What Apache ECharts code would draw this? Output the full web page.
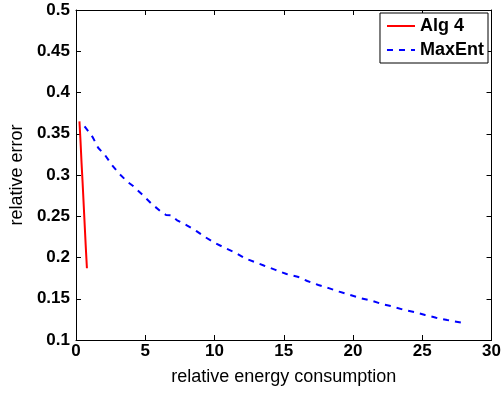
<!DOCTYPE html>
<html><head><meta charset="utf-8">
<script src="https://cdn.jsdelivr.net/npm/echarts@6/dist/echarts.min.js"></script>
<style>html,body{margin:0;padding:0;background:#fff}#c{width:504px;height:394px}</style>
</head><body><div id="c"></div>
<script>
var alg4 = [[0.25,0.365],[0.33,0.34],[0.40,0.315],[0.48,0.29],[0.70,0.215],[0.79,0.187]];
var maxEnt = [[0.62,0.359],[1.2,0.346],[1.6,0.333],[2.1,0.324],[2.6,0.312],[3.1,0.302],[3.7,0.292],[4.1,0.287],[4.8,0.276],[5.4,0.266],[6.1,0.256],[6.5,0.2515],[6.9,0.251],[7.3,0.245],[8.0,0.239],[8.7,0.232],[9.3,0.225],[10.0,0.218],[10.7,0.212],[11.5,0.206],[12.2,0.199],[12.9,0.1945],[13.6,0.19],[14.4,0.185],[15.2,0.18],[16.0,0.1767],[16.7,0.1715],[17.5,0.1667],[18.3,0.1626],[19.0,0.1586],[19.8,0.1545],[20.6,0.1505],[21.4,0.1473],[22.1,0.1436],[22.9,0.1404],[23.7,0.1364],[24.5,0.1336],[25.2,0.1303],[26.0,0.127],[26.8,0.1242],[27.85,0.121]];
var seriesNames = ['Alg 4','MaxEnt'];
var xTitle = 'relative energy consumption';
var yTitle = 'relative error';

var chart = echarts.init(document.getElementById('c'), null, {renderer:'canvas'});
var FONT = 'Liberation Sans, Arial, Helvetica, sans-serif';
var lineCol = '#000';
function axisBase(){
  return {
    axisLine:{show:true,onZero:false,lineStyle:{color:lineCol,width:1}},
    axisTick:{show:true,inside:true,length:5,lineStyle:{color:lineCol}},
    splitLine:{show:false}
  };
}
var xb = Object.assign(axisBase(), {type:'value',min:0,max:30,interval:5,position:'bottom',
  name:xTitle,nameLocation:'middle',nameGap:28,
  nameTextStyle:{fontFamily:FONT,fontSize:18,color:'#000'},
  axisLabel:{fontFamily:FONT,fontSize:17,fontWeight:'bold',color:'#000',margin:3}});
var xt = Object.assign(axisBase(), {type:'value',min:0,max:30,interval:5,position:'top',axisLabel:{show:false}});
var yl = Object.assign(axisBase(), {type:'value',min:0.1,max:0.5,interval:0.05,position:'left',
  name:yTitle,nameLocation:'middle',nameGap:44,nameRotate:90,
  nameTextStyle:{fontFamily:FONT,fontSize:18,color:'#000'},
  axisLabel:{fontFamily:FONT,fontSize:17,fontWeight:'bold',color:'#000',margin:6,
    formatter:function(v){return String(Math.round(v*100)/100);}}});
var yr = Object.assign(axisBase(), {type:'value',min:0.1,max:0.5,interval:0.05,position:'right',axisLabel:{show:false}});

chart.setOption({
  animation:false,
  backgroundColor:'#fff',
  grid:{left:72,right:11,top:10,bottom:54,containLabel:false},
  xAxis:[xb,xt],
  yAxis:[yl,yr],
  legend:{
    show:true,
    orient:'vertical',right:16,top:13,
    backgroundColor:'#fff',borderColor:'#000',borderWidth:1,
    padding:[4,4,4,6],itemGap:6,itemWidth:28,itemHeight:14,
    itemStyle:{opacity:0},
    textStyle:{fontFamily:FONT,fontSize:18,fontWeight:'bold',color:'#000'},
    data:seriesNames
  },
  series:[
    {name:seriesNames[0],type:'line',data:alg4,showSymbol:false,symbol:'none',
     lineStyle:{color:'#ff0000',width:2},itemStyle:{color:'#ff0000'},xAxisIndex:0,yAxisIndex:0},
    {name:seriesNames[1],type:'line',data:maxEnt,showSymbol:false,symbol:'none',
     lineStyle:{color:'#0000ff',width:2,type:[6,6]},itemStyle:{color:'#0000ff'},xAxisIndex:0,yAxisIndex:0}
  ]
});
</script></body></html>
